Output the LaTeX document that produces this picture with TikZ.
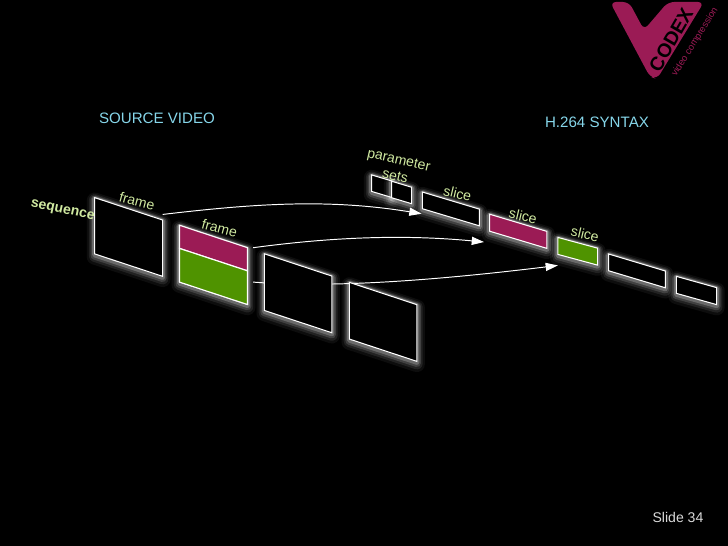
\documentclass[tikz,border=0pt]{standalone}
\usepackage{xcolor}
\usepackage{fontspec}
\setmainfont{Liberation Sans}
\usetikzlibrary{arrows.meta,backgrounds}
\definecolor{codexmagenta}{HTML}{9B1B55}
\definecolor{codexgreen}{HTML}{4F9300}
\definecolor{codexlabel}{HTML}{CFE8A0}
\definecolor{codexblue}{HTML}{86D6EA}
\tikzstyle{flow} = [-{Triangle[length=7pt,width=4.6pt]}, line width=0.55pt, white]
\tikzstyle{halo} = [preaction={draw=white, draw opacity=0.05, line width=9pt, line join=round, transform canvas={yshift=-1.6pt}},
  preaction={draw=white, draw opacity=0.09, line width=6.5pt, line join=round, transform canvas={yshift=-1.3pt}},
  preaction={draw=white, draw opacity=0.14, line width=4.5pt, line join=round, transform canvas={yshift=-1pt}},
  preaction={draw=white, draw opacity=0.22, line width=2.8pt, line join=round, transform canvas={yshift=-0.6pt}}]
\tikzset{
  panel/.style n args={3}{draw=white, line width=0.6pt, fill=#3, inner sep=0pt, outer sep=0pt, transform shape, minimum width=#1*0.02cm, minimum height=#2*0.02cm},
  tag/.style={text=codexlabel, font=\fontsize{8}{9.5}\selectfont, inner sep=0pt, align=center},
  heading/.style={text=codexblue, font=\fontsize{8.6}{10}\selectfont}
}
\begin{document}
\begin{tikzpicture}[x=0.02cm,y=-0.02cm]
\useasboundingbox (0,0) rectangle (728,546);

% source frames
\node (frameA) [panel={68}{56.3}{black}, halo, yslant=-0.33] at (128.7,237) {};
\node (frameB) [panel={68}{56.6}{black}, halo, yslant=-0.33] at (213.5,265) {};
\node (frameBtop) [panel={68}{23}{codexmagenta}, yslant=-0.33] at (213.5,248) {};
\node (frameBbot) [panel={68}{33.6}{codexgreen}, yslant=-0.33] at (213.5,276.5) {};
\node (frameC) [panel={67.5}{56.7}{black}, halo, yslant=-0.33] at (298.2,293.3) {};
\node (frameD) [panel={67.5}{56.7}{black}, halo, yslant=-0.33] at (383.2,321.9) {};

% syntax elements
\node (paramA) [panel={20}{16.5}{black}, halo, yslant=-0.3] at (381.7,186.2) {};
\node (paramB) [panel={20}{16.5}{black}, halo, yslant=-0.3] at (401.7,192.5) {};
\node (sliceA) [panel={57}{16.7}{black}, halo, yslant=-0.3] at (450.8,208.9) {};
\node (sliceB) [panel={57.3}{17}{codexmagenta}, halo, yslant=-0.3] at (518.3,231.3) {};
\node (sliceC) [panel={39.7}{17}{codexgreen}, halo, yslant=-0.27] at (577.8,251.3) {};
\node (sliceD) [panel={56.6}{16.8}{black}, halo, yslant=-0.3] at (637,270.9) {};
\node (sliceE) [panel={40.4}{17}{black}, halo, yslant=-0.28] at (696.5,290.5) {};

\begin{scope}[on background layer]
\fill[black] (0,0) rectangle (728,546);
\draw[flow] ([yshift=3.2pt]frameA.north east) .. controls (260,203) and (330,199) .. ([xshift=-0.4pt,yshift=-7.6pt]sliceA.west);
\draw[flow] ([xshift=3.2pt]frameBtop.north east) .. controls (340,236) and (410,235) .. ([xshift=-3.2pt,yshift=-11pt]sliceB.west);
\draw[flow] ([xshift=3.2pt,yshift=3.2pt]frameBbot.east) .. controls (330,288) and (430,281) .. ([yshift=-11.1pt]sliceC.west);
\end{scope}

% labels
\node (source) [heading] at (157,118) {SOURCE VIDEO};
\node (syntax) [heading] at (597,122) {H.264 SYNTAX};
\node (sequence) [tag, font=\bfseries\fontsize{8}{9.5}\selectfont, rotate=-12] at (62.5,211) {sequence};
\node (frameAlabel) [tag, rotate=-15] at (137,201) {frame};
\node (frameBlabel) [tag, rotate=-15] at (219.5,228.5) {frame};
\node (params) [tag, rotate=-13] at (397,168) {parameter\\sets};
\node (sliceAlabel) [tag, rotate=-13] at (457.5,193.5) {slice};
\node (sliceBlabel) [tag, rotate=-13] at (523,216) {slice};
\node (sliceClabel) [tag, rotate=-13] at (585,234) {slice};
\node (slide) [text=white!85!black, font=\fontsize{8}{9.5}\selectfont] at (678,517.5) {Slide 34};

% logo
\fill[codexmagenta, rounded corners=3.5pt] (610,2) -- (629,2) -- (644,30) -- (668,2) -- (704,2) -- (657,79) -- (650,77) -- cycle;
\node (codex) [text=black, font=\bfseries\fontsize{11}{11}\selectfont, rotate=60, inner sep=0pt] at (671,40) {CODEX};
\node (tagline) [text=codexmagenta, font=\fontsize{5.4}{6}\selectfont, rotate=58, inner sep=0pt] at (695,42) {video compression};
\end{tikzpicture}
\end{document}
